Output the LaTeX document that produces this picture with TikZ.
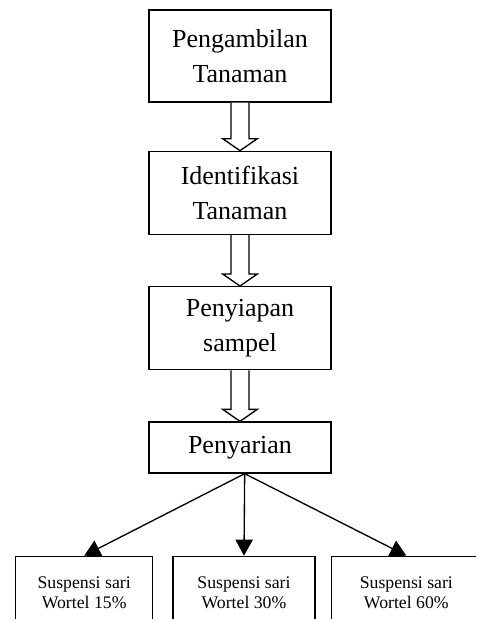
\documentclass[tikz,border=0pt]{standalone}
\usepackage{fontspec}
\setmainfont{Liberation Serif}
\usetikzlibrary{positioning, calc, arrows.meta}

% hollow block arrow from the bottom of #1 to the top of #2
\newcommand{\panahblok}[2]{%
  \draw[hollow] ($(#1.south)+(-6.75pt,0)$) -- ($(#2.north)+(-6.75pt,9pt)$)
    -- ($(#2.north)+(-13pt,9pt)$) -- (#2.north) -- ($(#2.north)+(13pt,9pt)$)
    -- ($(#2.north)+(6.75pt,9pt)$) -- ($(#1.south)+(6.75pt,0)$);}

\begin{document}
\begin{tikzpicture}[x=0.75pt, y=-0.75pt,
block/.style={rectangle, align=center, draw=black, line width=1pt,
minimum width=136.5pt, font=\fontsize{19.5}{26}\selectfont},
block-main/.style={block},
block-hasil/.style={block, minimum height=54pt, font=\fontsize{13.3}{15}\selectfont},
hollow/.style={draw, line width=1pt, fill=white},
line/.style={draw, line width=1pt, -{Triangle[length=12pt, width=13pt]}}
]
\path[use as bounding box, clip] (0,0) rectangle (476,619);

\node [block-main, minimum height=69pt] (ambil) at (240,56) {Pengambilan\\Tanaman};
\node [block-main, minimum height=62.25pt, below=36pt of ambil] (identifikasi) {Identifikasi\\Tanaman};
\node [block-main, minimum height=62.25pt, below=38.25pt of identifikasi] (siap) {Penyiapan\\sampel};
\node [block-main, minimum height=38.25pt, below=38.25pt of siap] (sari) {Penyarian};

\node [block-hasil, minimum width=106.5pt, below=61.5pt of sari, xshift=3pt] (s30) {Suspensi sari\\Wortel 30\%};
\node [block-hasil, minimum width=102.75pt, left=14.25pt of s30] (s15) {Suspensi sari\\Wortel 15\%};
\node [block-hasil, minimum width=112.5pt, right=11.25pt of s30] (s60) {Suspensi sari\\Wortel 60\%};

\panahblok{ambil}{identifikasi}
\panahblok{identifikasi}{siap}
\panahblok{siap}{sari}

\coordinate (cabang) at ([xshift=3.5pt]sari.south);
\path [line] (cabang) -- (s15.north);
\path [line] (cabang) -- (s30.north);
\path [line] (cabang) -- (s60.north);

\end{tikzpicture}
\end{document}
